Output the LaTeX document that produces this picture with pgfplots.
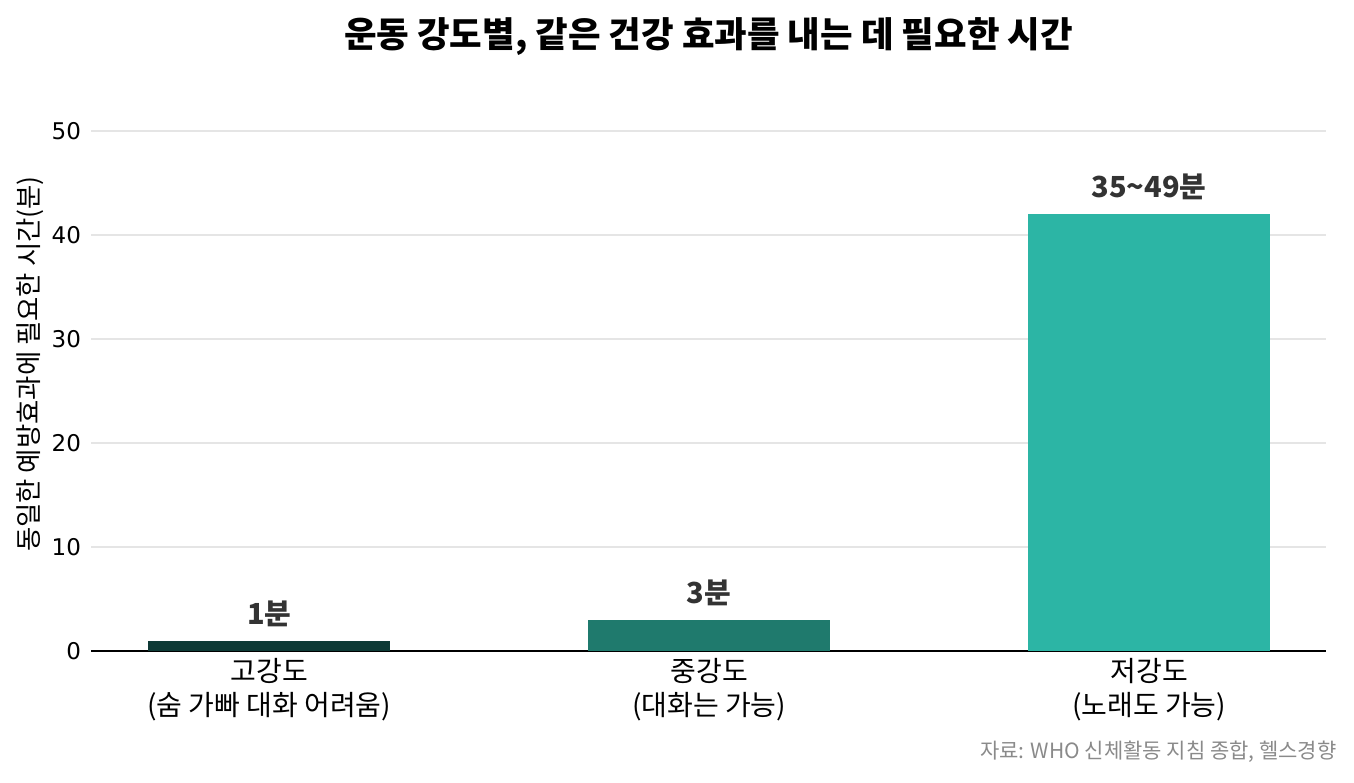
\documentclass[border=0pt]{standalone}
\usepackage{fontspec}
\setmainfont{Noto Sans CJK KR}
\newfontfamily\dejavu{DejaVu Sans}
\usepackage{pgfplots}
\pgfplotsset{compat=1.18}
\definecolor{cA}{HTML}{0E3A36}
\definecolor{cB}{HTML}{1F7A6D}
\definecolor{cC}{HTML}{2CB5A5}
\definecolor{txt}{HTML}{333333}
\definecolor{gridc}{HTML}{E5E5E5}
\definecolor{src}{HTML}{8A8A8A}
\begin{document}
\begin{tikzpicture}
\path[use as bounding box] (0,0) rectangle (677pt,391pt);
\begin{axis}[
  at={(45.5pt,65.5pt)}, anchor=south west,
  scale only axis, width=617.5pt, height=260pt,
  xmin=-0.405, xmax=2.402, ymin=0, ymax=50,
  ytick={0,10,20,30,40,50},
  xtick={0,1,2},
  xticklabels={{고강도\\(숨 가빠 대화 어려움)},{중강도\\(대화는 가능)},{저강도\\(노래도 가능)}},
  xticklabel style={align=center, font=\fontsize{14pt}{17pt}\selectfont, text=black, yshift=0pt},
  yticklabel style={font=\dejavu\fontsize{11.5pt}{13pt}\selectfont, text=black, xshift=-1.5pt},
  /pgf/number format/assume math mode=true,
  axis x line=bottom, axis y line=left,
  x axis line style={-, black, line width=0.8pt},
  y axis line style={draw=none},
  major tick length=0pt,
  ymajorgrids, grid style={gridc, line width=1pt},
  ybar, bar width=0.55, bar shift=0pt,
  nodes near coords, point meta=explicit symbolic,
  nodes near coords style={font=\fontsize{14.5pt}{17pt}\selectfont\bfseries, text=txt, anchor=center, yshift=13.5pt},
  clip=false,
]
\addplot[fill=cA, draw=none] coordinates {(0,1) [1분]};
\addplot[fill=cB, draw=none] coordinates {(1,3) [3분]};
\addplot[fill=cC, draw=none] coordinates {(2,42) [35\textasciitilde49분]};
\end{axis}
\node[font=\fontsize{17.7pt}{21pt}\selectfont\bfseries, text=black] at (354.25pt,372.5pt) {운동 강도별, 같은 건강 효과를 내는 데 필요한 시간};
\node[font=\fontsize{13.2pt}{15pt}\selectfont, text=black, rotate=90] at (15pt,209pt) {동일한 예방효과에 필요한 시간(분)};
\node[font=\fontsize{10.5pt}{12pt}\selectfont, text=src, anchor=east, inner sep=0pt] at (668.5pt,15pt) {자료: WHO 신체활동 지침 종합, 헬스경향};
\end{tikzpicture}
\end{document}
